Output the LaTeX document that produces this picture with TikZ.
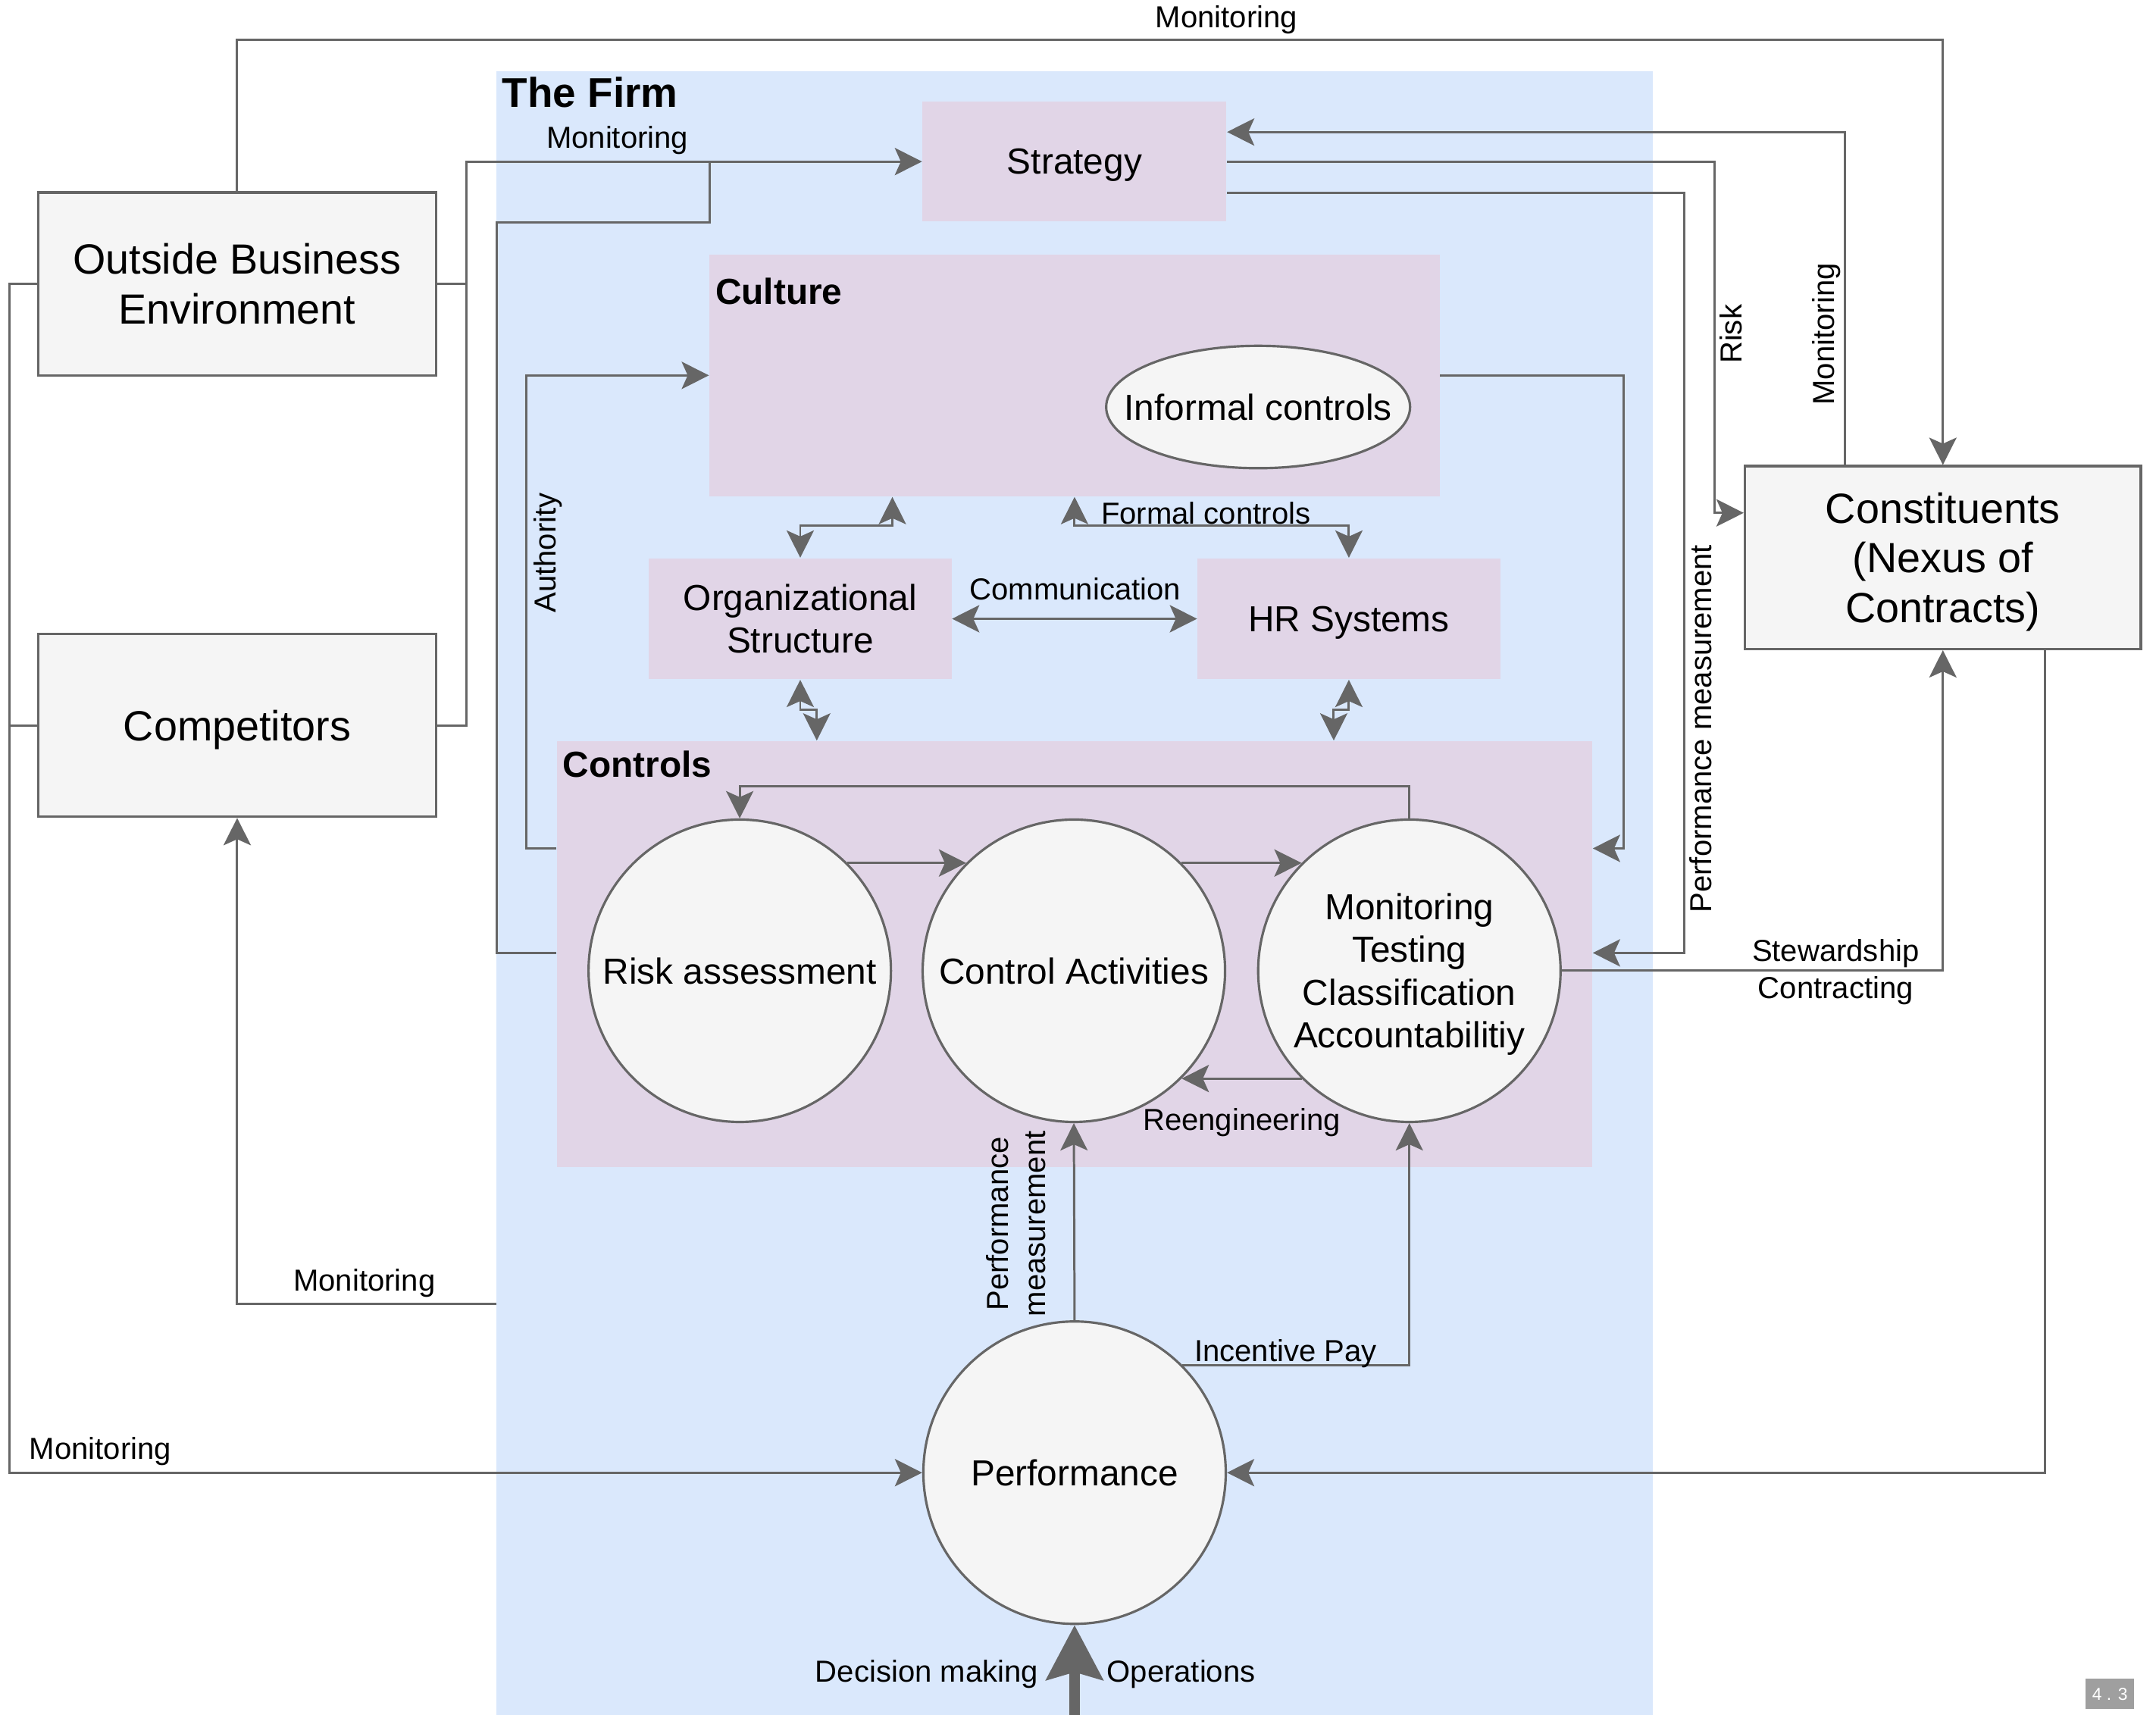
\documentclass[tikz,border=0pt]{standalone}
\usepackage{fontspec}
\setmainfont{Liberation Sans}
\usetikzlibrary{arrows.meta,fit,shapes.geometric}
\definecolor{firmblue}{HTML}{DAE8FC}
\definecolor{lilac}{HTML}{E1D5E7}
\definecolor{boxgray}{HTML}{F5F5F5}
\definecolor{linegray}{HTML}{666666}
\begin{document}
\begin{tikzpicture}[x=0.018144cm, y=-0.018144cm,
  >={Stealth[length=0.36cm, width=0.36cm, inset=0.08cm]},
  bigfont/.style={font=\fontsize{15.85}{18.6}\selectfont},
  midfont/.style={font=\fontsize{13.6}{16}\selectfont},
  lblfont/.style={font=\fontsize{11.4}{13.9}\selectfont},
  outerbox/.style={draw=linegray, fill=boxgray, line width=0.9pt, inner sep=0pt, align=center, bigfont},
  lilacbox/.style={fill=lilac, inner sep=0pt, align=center, midfont},
  roundbox/.style={circle, draw=linegray, fill=boxgray, line width=0.9pt, minimum size=3.99cm, inner sep=0pt, align=center, midfont},
  conn/.style={draw=linegray, line width=0.85pt},
  lbl/.style={inner sep=0pt, lblfont, text depth=0pt},
  lbltwo/.style={inner sep=0pt, lblfont, align=center},
  grouptitle/.style={anchor=west, inner sep=0pt, font=\bfseries\fontsize{13.6}{16}\selectfont}
]
\useasboundingbox (0,0) rectangle (1568,1247);
\fill[white] (0,0) rectangle (1568,1247);

% The firm
\node[fill=firmblue, inner sep=0pt, fit={(361,52) (1202,1247)}] (firm) {};
\node[anchor=west, inner sep=0pt, font=\bfseries\fontsize{15.6}{18}\selectfont] (firmT) at (365,67) {The Firm};

% Inner boxes
\node[lilacbox, text depth=0pt, minimum width=4.010cm, minimum height=1.579cm] (strategy) at (781.5,117.5) {Strategy};
\node[lilacbox, minimum width=9.634cm, minimum height=3.193cm] (culture) at (781.5,273) {};
\node[grouptitle] (cultureT) at (520,212) {Culture};
\node[ellipse, draw=linegray, fill=boxgray, line width=0.9pt, minimum width=4.01cm, minimum height=1.615cm, inner sep=0pt,
      label={[midfont, inner sep=0pt]center:Informal controls}] (informal) at (915,296) {};
\node[lilacbox, minimum width=3.992cm, minimum height=1.597cm] (org) at (582,450) {Organizational\\Structure};
\node[lilacbox, text depth=0pt, minimum width=3.992cm, minimum height=1.597cm] (hr) at (981,450) {HR Systems};
\node[lilacbox, minimum width=13.662cm, minimum height=5.625cm] (controls) at (781.5,694) {};
\node[grouptitle] (controlsT) at (409,556) {Controls};

\node[roundbox] (risk) at (538,706) {Risk assessment};
\node[roundbox] (ctrl) at (781,706) {Control Activities};
\node[roundbox] (mon) at (1025,706) {Monitoring\\Testing\\Classification\\Accountabiliti\smash{y}};
\node[roundbox] (perf) at (781.5,1071) {Performance};

% Outer boxes
\node[outerbox, minimum width=5.244cm, minimum height=2.413cm] (outside) at (172.5,206.5) {Outside Business\\Environment};
\node[outerbox, text depth=0pt, minimum width=5.244cm, minimum height=2.413cm] (competitors) at (172.5,527.5) {Competitors};
\node[outerbox, minimum width=5.225cm, minimum height=2.413cm] (constituents) at (1413,405.5) {Constituents\\(Nexus of\\Contracts\smash{)}};

% Connectors: outside world
\draw[conn,->] (outside.north) -- (outside.north |- 0,29) -- (constituents.north |- 0,29) -- (constituents.north);
\node[lbl] (lTop) at (892,12) {Monitoring};

\draw[conn] (outside.east) -- (outside.east -| 339,0);
\draw[conn,->] (competitors.east) -| (strategy.west -| 339,0) -- (strategy.west);
\node[lbl] (lStrat) at (449,100) {Monitoring};

\draw[conn] (controls.west |- 0,693) -| (361,162) -| (strategy.west -| 516,0);

\draw[conn,->] (controls.west |- 0,617) -- (383,617) |- (culture.west);
\node[lbl, rotate=90] (lAuth) at (396,402) {Authority};

\draw[conn,->] (outside.west) -| (perf.west -| 7,0) -- (perf.west);
\draw[conn] (competitors.west) -- (competitors.west -| 7,0);
\node[lbl] (lLeft) at (73,1053) {Monitoring};

\coordinate (firmL) at (361,948);
\draw[conn,->] (firmL) -| (competitors.south);
\node[lbl] (lComp) at (265,931) {Monitoring};

% Right side
\draw[conn,->] (constituents.north -| 1342,0) |- (strategy.east |- 0,96);
\node[lbl, rotate=90] (lMonR) at (1326,243) {Monitoring};
\draw[conn,->] (strategy.east) -| (1247,373) -- (constituents.west |- 0,373);
\node[lbl, rotate=90] (lRisk) at (1259,243) {Risk};
\draw[conn,->] (strategy.east |- 0,140) -| (1225,693) -- (controls.east |- 0,693);
\node[lbl, rotate=90] (lPerfR) at (1237,530) {Performance measurement};
\draw[conn,->] (culture.east) -| (1181,617) -- (controls.east |- 0,617);
\draw[conn,->] (constituents.south -| 1487,0) |- (perf.east);
\draw[conn,->] (mon.east) -| (constituents.south);
\node[lbltwo] (lStew) at (1335,707) {Stewardship\\Contracting};

% Culture / structure / HR
\draw[conn,<->] (org.north) -- (org.north |- 0,382) -- (649,382) -- (culture.south -| 649,0);
\draw[conn,<->] (culture.south -| 781.5,0) -- (781.5,382) -- (hr.north |- 0,382) -- (hr.north);
\node[lbl] (lFormal) at (877,373) {Formal controls};
\draw[conn,<->] (org.east) -- (hr.west);
\node[lbl] (lComm) at (782,428) {Communication};
\draw[conn,<->] (org.south) -- (org.south |- 0,516) -- (594,516) -- (controls.north -| 594,0);
\draw[conn,<->] (hr.south) -- (hr.south |- 0,516) -- (970,516) -- (controls.north -| 970,0);

% Controls internal
\draw[conn,->] (risk.45) -- (ctrl.135);
\draw[conn,->] (ctrl.45) -- (mon.135);
\draw[conn,->] (mon.north) -- (mon.north |- 0,572) -- (risk.north |- 0,572) -- (risk.north);
\draw[conn,->] (mon.225) -- (ctrl.-45);
\node[lbl] (lReeng) at (903,814) {Reengineering};

% Performance
\draw[conn,->] (perf.north) -- (ctrl.south);
\node[lbltwo, rotate=90] (lPerfM) at (739,890) {Performance\\measurement};
\draw[conn,->] (perf.45) -| (mon.south);
\node[lbl] (lInc) at (935,982) {Incentive Pay};

\coordinate (bot) at (781.5,1247);
\draw[draw=linegray, line width=4.1pt, -{Stealth[length=0.72cm, width=0.74cm, inset=0.1cm]}] (bot) -- (perf.south);
\node[lbl] (lDec) at (674,1215) {Decision making};
\node[lbl] (lOps) at (859,1215) {Operations};

% version tag
\node[fill=gray!75, text=white, inner sep=0pt, font=\fontsize{6.5}{8}\selectfont, minimum width=0.635cm, minimum height=0.399cm] (ver) at (1534.5,1232) {4 . 3};
\end{tikzpicture}
\end{document}
